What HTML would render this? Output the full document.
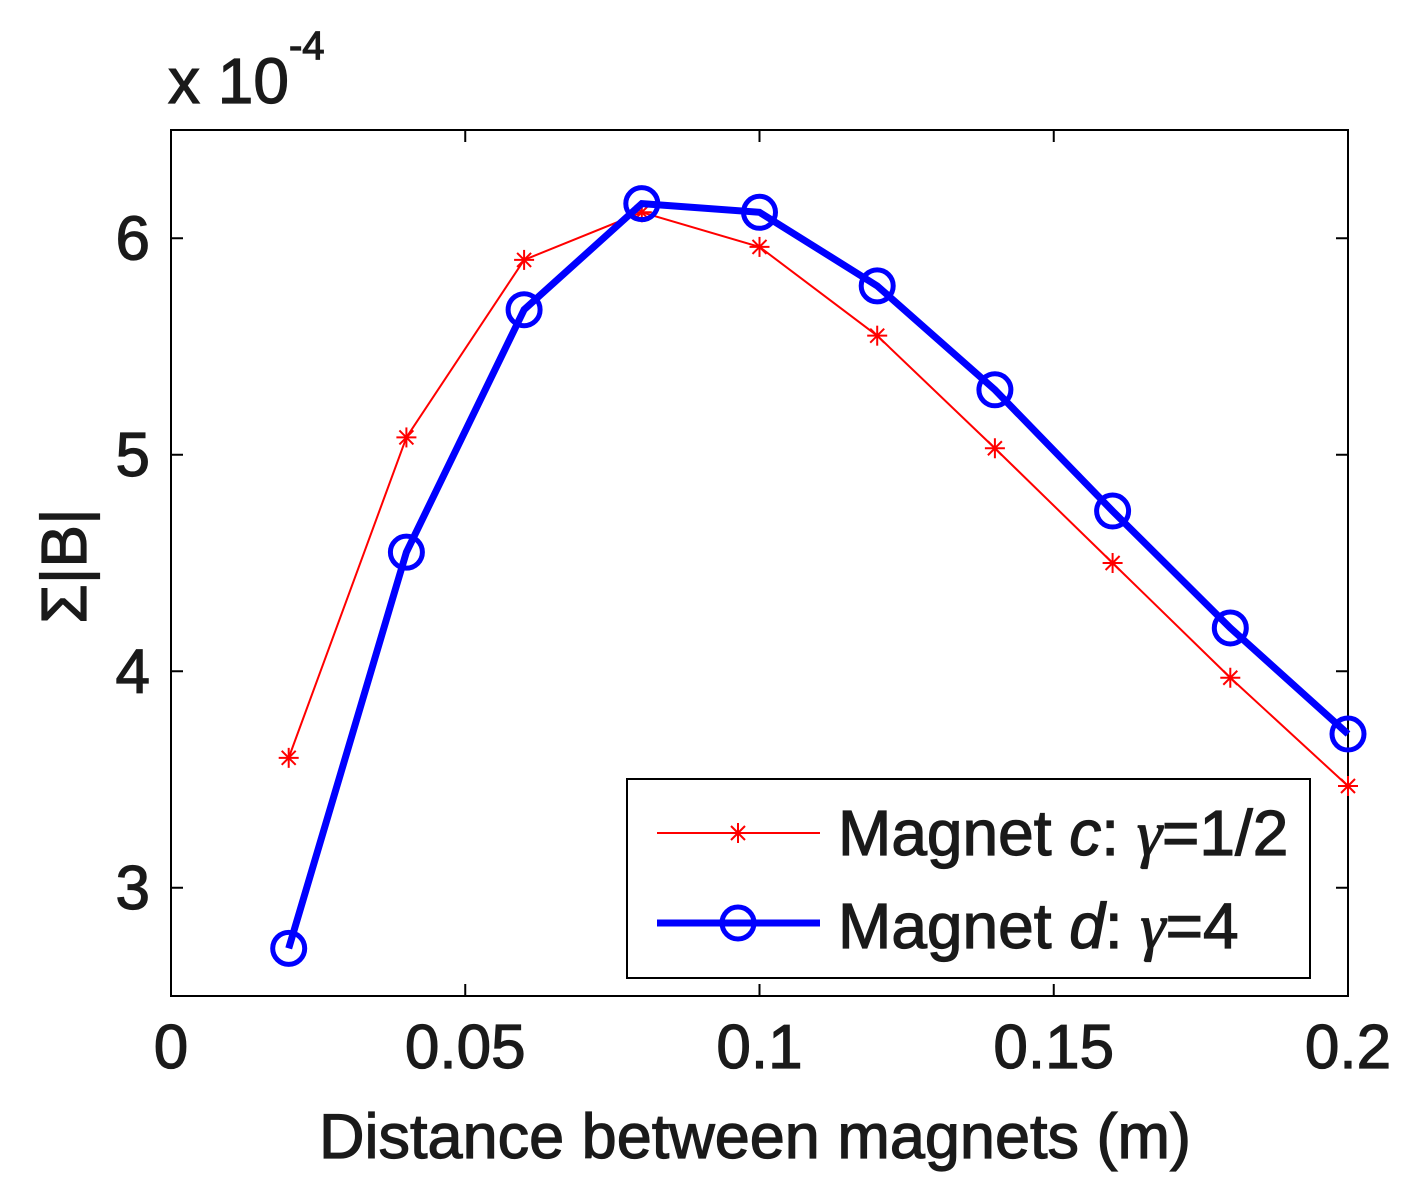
<!DOCTYPE html>
<html><head><meta charset="utf-8"><style>
html,body{margin:0;padding:0;background:#fff;}
svg text{font-family:"Liberation Sans",Arial,sans-serif;fill:#1a1a1a;stroke:#1a1a1a;stroke-width:1.2;}
</style></head><body>
<svg width="1419" height="1197" xmlns="http://www.w3.org/2000/svg">
<g id="plot"></g>
</svg>
<script>
const xValues=[0.02,0.04,0.06,0.08,0.1,0.12,0.14,0.16,0.18,0.2];
const seriesC=[3.6,5.08,5.9,6.12,5.96,5.55,5.03,4.5,3.97,3.47];
const seriesD=[2.72,4.55,5.67,6.16,6.12,5.78,5.3,4.74,4.2,3.71];
const xTicks=[0,0.05,0.1,0.15,0.2];
const xTickLabels=["0","0.05","0.1","0.15","0.2"];
const yTicks=[3,4,5,6];
const yTickLabels=["3","4","5","6"];
const L=171,R=1348,T=130,B=996,X0=0,X1=0.2,Y0=2.5,Y1=6.5;
const sx=v=>L+(v-X0)/(X1-X0)*(R-L);
const sy=v=>B-(v-Y0)/(Y1-Y0)*(B-T);
const NS="http://www.w3.org/2000/svg";
const g=document.getElementById('plot');
function mk(t,a,p){const e=document.createElementNS(NS,t);for(const k in a)e.setAttribute(k,a[k]);(p||g).appendChild(e);return e;}
let e=mk('rect',{x:L,y:T,width:R-L,height:B-T,fill:'#fff',stroke:'#000','stroke-width':2});

xTicks.forEach((v,i)=>{
 mk('line',{x1:sx(v),x2:sx(v),y1:B,y2:B-12,stroke:'#000','stroke-width':2});
 mk('line',{x1:sx(v),x2:sx(v),y1:T,y2:T+12,stroke:'#000','stroke-width':2});
 const t=mk('text',{x:sx(v),y:1068,'font-size':62,'text-anchor':'middle'});t.textContent=xTickLabels[i];
 
});
yTicks.forEach((v,i)=>{
 mk('line',{x1:L,x2:L+12,y1:sy(v),y2:sy(v),stroke:'#000','stroke-width':2});
 mk('line',{x1:R,x2:R-12,y1:sy(v),y2:sy(v),stroke:'#000','stroke-width':2});
 const t=mk('text',{x:150,y:sy(v)+21,'font-size':62,'text-anchor':'end'});t.textContent=yTickLabels[i];
 
});
function star(x,y,p){const s=10;
 mk('line',{x1:x-s,x2:x+s,y1:y,y2:y,stroke:'#f00','stroke-width':2},p);
 mk('line',{x1:x,x2:x,y1:y-s,y2:y+s,stroke:'#f00','stroke-width':2},p);
 mk('line',{x1:x-7,x2:x+7,y1:y-7,y2:y+7,stroke:'#f00','stroke-width':2},p);
 mk('line',{x1:x-7,x2:x+7,y1:y+7,y2:y-7,stroke:'#f00','stroke-width':2},p);}
const gc=mk('g',{});
mk('polyline',{points:xValues.map((x,i)=>sx(x)+','+sy(seriesC[i])).join(' '),fill:'none',stroke:'#f00','stroke-width':2},gc);
xValues.forEach((x,i)=>star(sx(x),sy(seriesC[i]),gc));
const gd=mk('g',{});
mk('polyline',{points:xValues.map((x,i)=>sx(x)+','+sy(seriesD[i])).join(' '),fill:'none',stroke:'#00f','stroke-width':7},gd);
xValues.forEach((x,i)=>mk('circle',{cx:sx(x),cy:sy(seriesD[i]),r:16,fill:'none',stroke:'#00f','stroke-width':5},gd));
const lg=mk('g',{});
mk('rect',{x:627,y:779,width:683,height:199,fill:'#fff',stroke:'#000','stroke-width':2},lg);
mk('line',{x1:657,x2:820,y1:833,y2:833,stroke:'#f00','stroke-width':2},lg);star(738,833,lg);
mk('line',{x1:657,x2:820,y1:923,y2:923,stroke:'#00f','stroke-width':7},lg);
mk('circle',{cx:738,cy:923,r:16,fill:'none',stroke:'#00f','stroke-width':5},lg);
let t=mk('text',{x:838,y:855,'font-size':64},lg);t.innerHTML='Magnet <tspan font-style="italic">c</tspan>: <tspan font-family="Liberation Serif" font-style="italic">γ</tspan>=1/2';

t=mk('text',{x:838,y:948,'font-size':64},lg);t.innerHTML='Magnet <tspan font-style="italic">d</tspan>: <tspan font-family="Liberation Serif" font-style="italic">γ</tspan>=4';

t=mk('text',{x:755,y:1158,'font-size':63,'text-anchor':'middle'});t.textContent='Distance between magnets (m)';

t=mk('text',{x:0,y:0,'font-size':64,'text-anchor':'middle',transform:'translate(86,566) rotate(-90)'});t.textContent='Σ|B|';

t=mk('text',{x:168,y:103,'font-size':64});t.innerHTML='x 10<tspan font-size="40" dy="-44">-4</tspan>';

</script>
</body></html>
